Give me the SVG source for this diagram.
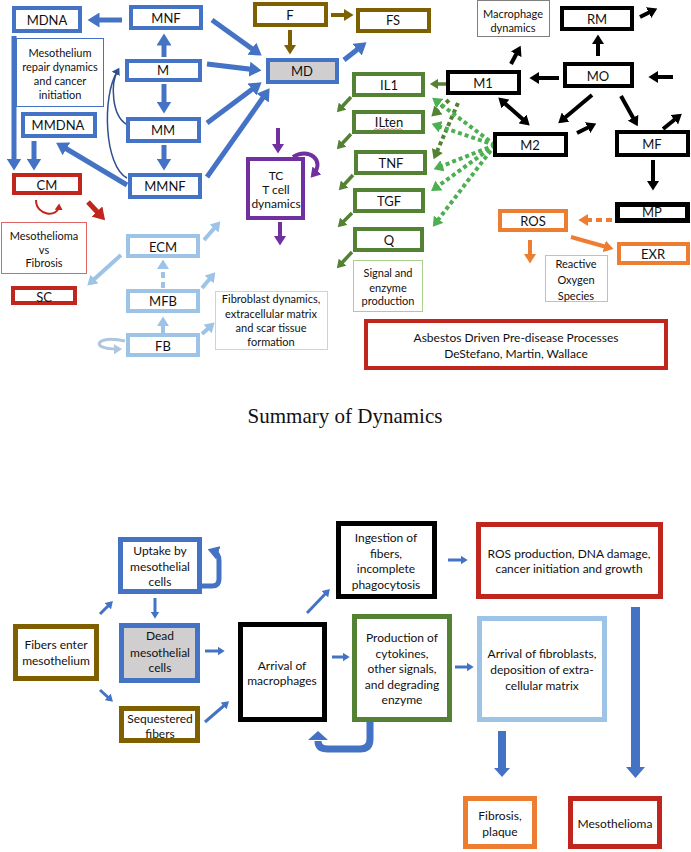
<svg xmlns="http://www.w3.org/2000/svg" width="691" height="852" viewBox="0 0 691 852">
<defs>
<style>
text{font-family:Lato,"Open Sans","Liberation Sans",sans-serif;font-size:13px;fill:#111;text-anchor:middle;dominant-baseline:central}
.s{font-size:11px}
.m{font-size:12px}
.ttl{font-family:"Liberation Serif","DejaVu Serif",serif;font-size:21px;dominant-baseline:alphabetic}
rect{fill:#fff}
.bl{stroke:#4472C4;stroke-width:4}
.lb{stroke:#9DC3E6;stroke-width:4}
.rd{stroke:#C0261E;stroke-width:4}
.br{stroke:#7F6000;stroke-width:4}
.gr{stroke:#548235;stroke-width:4}
.pu{stroke:#7030A0;stroke-width:4}
.bk{stroke:#000;stroke-width:4}
.bk5{stroke:#000;stroke-width:5}
.or{stroke:#ED7D31;stroke-width:4}
.gray{fill:#D0CECE}
.b5{stroke-width:5}
#connectors path,#connectors line{fill:none}
.ab{stroke:#4472C4;stroke-width:5;marker-end:url(#mb)}
.ab3{stroke:#4472C4;stroke-width:3;marker-end:url(#mb)}
.alb{stroke:#9DC3E6;stroke-width:4;marker-end:url(#mlb)}
.ard{stroke:#C0261E;stroke-width:5;marker-end:url(#mrd)}
.abr{stroke:#7F6000;stroke-width:4;marker-end:url(#mbr)}
.apu{stroke:#7030A0;stroke-width:4;marker-end:url(#mpu)}
.agr{stroke:#548235;stroke-width:3.5;marker-end:url(#mgr)}
.agd{stroke:#548235;stroke-width:4;stroke-dasharray:4 3;marker-end:url(#mgr)}
.agl{stroke:#4CB050;stroke-width:4;stroke-dasharray:4 3;marker-end:url(#mgl)}
.abk{stroke:#000;stroke-width:4;marker-end:url(#mbk)}
.aor{stroke:#ED7D31;stroke-width:4;marker-end:url(#mor)}
</style>
<marker id="mb" viewBox="0 0 10 10" refX="5" refY="5" markerWidth="3" markerHeight="3" orient="auto"><path d="M0,0L8,5L0,10z" fill="#4472C4"/></marker>
<marker id="mlb" viewBox="0 0 10 10" refX="5" refY="5" markerWidth="3" markerHeight="3" orient="auto"><path d="M0,0L8,5L0,10z" fill="#9DC3E6"/></marker>
<marker id="mrd" viewBox="0 0 10 10" refX="5" refY="5" markerWidth="3" markerHeight="3" orient="auto"><path d="M0,0L8,5L0,10z" fill="#C0261E"/></marker>
<marker id="mbr" viewBox="0 0 10 10" refX="5" refY="5" markerWidth="3" markerHeight="3" orient="auto"><path d="M0,0L8,5L0,10z" fill="#7F6000"/></marker>
<marker id="mpu" viewBox="0 0 10 10" refX="5" refY="5" markerWidth="3" markerHeight="3" orient="auto"><path d="M0,0L8,5L0,10z" fill="#7030A0"/></marker>
<marker id="mgr" viewBox="0 0 10 10" refX="5" refY="5" markerWidth="3" markerHeight="3" orient="auto"><path d="M0,0L8,5L0,10z" fill="#548235"/></marker>
<marker id="mgl" viewBox="0 0 10 10" refX="5" refY="5" markerWidth="3" markerHeight="3" orient="auto"><path d="M0,0L8,5L0,10z" fill="#4CB050"/></marker>
<marker id="mbk" viewBox="0 0 10 10" refX="5" refY="5" markerWidth="3" markerHeight="3" orient="auto-start-reverse"><path d="M0,0L8,5L0,10z" fill="#000"/></marker>
<marker id="mor" viewBox="0 0 10 10" refX="5" refY="5" markerWidth="3" markerHeight="3" orient="auto"><path d="M0,0L8,5L0,10z" fill="#ED7D31"/></marker>
<marker id="mnav" viewBox="0 0 10 10" refX="5" refY="5" markerWidth="6" markerHeight="6" orient="auto"><path d="M0,0L8,5L0,10z" fill="#2F4F8F"/></marker>
<marker id="mrs" viewBox="0 0 10 10" refX="5" refY="5" markerWidth="4" markerHeight="4" orient="auto"><path d="M0,0L8,5L0,10z" fill="#C0261E"/></marker>
<marker id="mgy" viewBox="0 0 10 10" refX="5" refY="5" markerWidth="3.5" markerHeight="3.5" orient="auto"><path d="M0,0L8,5L0,10z" fill="#AFC6DC"/></marker>
<marker id="mbig" viewBox="0 0 10 10" refX="4" refY="5" markerWidth="2.8" markerHeight="2.8" orient="auto"><path d="M0,0L8,5L0,10z" fill="#4472C4"/></marker>
</defs>
<rect x="0" y="0" width="691" height="852" style="fill:#fff"/>

<g id="connectors">
<line class="ab" x1="122" y1="20" x2="92" y2="20"/>
<line class="ab" x1="164" y1="57" x2="164" y2="38"/>
<line class="ab" x1="164" y1="84" x2="164" y2="109"/>
<line class="ab" x1="164" y1="145" x2="164" y2="166"/>
<line class="ab" x1="212" y1="20" x2="258" y2="53"/>
<line class="ab" x1="207" y1="64" x2="257" y2="70"/>
<line class="ab" x1="207" y1="123" x2="258" y2="85"/>
<line class="ab" x1="207" y1="177" x2="267" y2="92"/>
<line class="ab" x1="344" y1="60" x2="363" y2="45"/>
<line class="ab" x1="14" y1="36" x2="14" y2="166"/>
<line class="ab" x1="34" y1="141" x2="34" y2="166"/>
<line class="ab" x1="127" y1="185" x2="60" y2="145"/>
<path d="M126,124 C112,115 110,84 118,70" stroke="#2F4F8F" stroke-width="1.5" marker-end="url(#mnav)"/>
<path d="M127,178 C104,166 102,96 117,72" stroke="#2F4F8F" stroke-width="1.5"/>
<path d="M36,200 C36,216 58,218 59,206" stroke="#C0261E" stroke-width="2" marker-end="url(#mrs)"/>
<line class="ard" x1="88" y1="202" x2="102" y2="217"/>
<line class="alb" x1="121" y1="255" x2="90" y2="283"/>
<line class="alb" x1="204" y1="240" x2="218" y2="224"/>
<line class="alb" x1="163" y1="288" x2="163" y2="263" stroke-dasharray="6 4"/>
<line class="alb" x1="202" y1="288" x2="213" y2="275"/>
<line class="alb" x1="163" y1="333" x2="163" y2="320"/>
<line class="alb" x1="202" y1="334" x2="212" y2="325"/>
<path d="M125,341 C96,334 88,350 119,349" stroke="#AFC6DC" stroke-width="3" marker-end="url(#mgy)"/>
<line class="abr" x1="331" y1="15" x2="350" y2="15"/>
<line class="abr" x1="290" y1="30" x2="290" y2="51"/>
<line class="apu" x1="278" y1="128" x2="278" y2="150"/>
<line class="apu" x1="280" y1="222" x2="280" y2="242"/>
<path d="M293,157 C308,147 326,160 313,175" class="apu"/>
<line class="agr" x1="351" y1="97" x2="339" y2="110"/>
<line class="agr" x1="351" y1="134" x2="339" y2="147"/>
<line class="agr" x1="353" y1="175" x2="341" y2="188"/>
<line class="agr" x1="352" y1="213" x2="340" y2="225"/>
<line class="agr" x1="352" y1="252" x2="339" y2="266"/>
<line class="agr" x1="446" y1="84" x2="433" y2="84"/>
<line class="agd" x1="449" y1="100" x2="434" y2="114"/>
<line class="agd" x1="458" y1="103" x2="435" y2="156"/>
<line class="agl" x1="495" y1="145" x2="435" y2="100"/>
<line class="agl" x1="495" y1="145" x2="435" y2="125"/>
<line class="agl" x1="495" y1="145" x2="437" y2="168"/>
<line class="agl" x1="495" y1="145" x2="434" y2="189"/>
<line class="agl" x1="495" y1="145" x2="435" y2="224"/>
<line class="abk" x1="640" y1="17" x2="654" y2="10"/>
<line class="abk" x1="598" y1="56" x2="598" y2="38"/>
<line class="abk" x1="673" y1="77" x2="652" y2="77"/>
<line class="abk" x1="559" y1="78" x2="533" y2="78"/>
<line class="abk" x1="511" y1="64" x2="519" y2="49"/>
<line class="abk" x1="501" y1="100" x2="527" y2="123" marker-start="url(#mbk)"/>
<line class="abk" x1="592" y1="95" x2="561" y2="121"/>
<line class="abk" x1="577" y1="133" x2="593" y2="125"/>
<line class="abk" x1="621" y1="96" x2="636" y2="123"/>
<line class="abk" x1="663" y1="129" x2="679" y2="116"/>
<line class="abk" x1="653" y1="160" x2="653" y2="187"/>
<line class="aor" x1="612" y1="220" x2="582" y2="220" stroke-dasharray="6 4"/>
<line class="aor" x1="571" y1="237" x2="610" y2="248"/>
<line class="aor" x1="530" y1="240" x2="530" y2="260"/>
<line class="ab3" x1="100" y1="614" x2="111" y2="603"/>
<line class="ab3" x1="100" y1="690" x2="111" y2="700"/>
<line class="ab3" x1="155" y1="598" x2="155" y2="616"/>
<line class="ab3" x1="205" y1="651" x2="222" y2="651"/>
<line class="ab3" x1="205" y1="722" x2="227" y2="703"/>
<line class="ab3" x1="307" y1="613" x2="328" y2="591"/>
<line class="ab3" x1="332" y1="657" x2="347" y2="657"/>
<line class="ab3" x1="448" y1="560" x2="465" y2="560"/>
<line class="ab3" x1="455" y1="667" x2="471" y2="667"/>
<path d="M202,586 L212,586 Q219,586 219,579 L219,561 Q219,553 213,551" stroke="#4472C4" stroke-width="5" marker-end="url(#mbig)"/>
<path d="M370,722 L370,739 Q370,749 360,749 L328,749 Q318,749 318,741" stroke="#4472C4" stroke-width="7"/>
<polygon points="308,740 318,731 328,740" fill="#4472C4"/>
<polygon points="631,607 640,607 640,767 645,767 635.5,778 626,767 631,767" fill="#4472C4"/>
<polygon points="498,731 506,731 506,768 510,768 502,777 494,768 498,768" fill="#4472C4"/>
</g>

<g id="MDNA"><rect class="bl" x="14" y="8" width="66" height="23"/><text x="47" y="20">MDNA</text></g>
<g id="MNF"><rect class="bl" x="131" y="7" width="70" height="21"/><text x="166" y="18">MNF</text></g>
<g id="M"><rect class="bl" x="127" y="61" width="73" height="19"/><text x="163" y="70">M</text></g>
<g id="MM"><rect class="bl" x="128" y="119" width="71" height="22"/><text x="163" y="130">MM</text></g>
<g id="MMNF"><rect class="bl" x="130" y="175" width="70" height="22"/><text x="165" y="186">MMNF</text></g>
<g id="MMDNA"><rect class="bl" x="23" y="114" width="72" height="22"/><text x="58" y="125">MMDNA</text></g>
<g id="label-meso"><rect x="16.5" y="38.5" width="87" height="68" stroke="#4472C4" stroke-width="1"/>
<text class="s" x="60" y="52">Mesothelium</text><text class="s" x="60" y="66">repair dynamics</text><text class="s" x="60" y="80">and cancer</text><text class="s" x="60" y="94">initiation</text></g>
<g id="CM"><rect class="rd" x="14" y="175" width="66" height="18"/><text x="47" y="185">CM</text></g>
<g id="label-mvf"><rect x="1.5" y="222.5" width="85" height="51" stroke="#E06666" stroke-width="1"/>
<text class="s" x="44" y="235">Mesothelioma</text><text class="s" x="44" y="249">vs</text><text class="s" x="44" y="262">Fibrosis</text></g>
<g id="SC"><rect class="rd" x="13" y="288" width="62" height="15"/><text x="44" y="297">SC</text></g>
<g id="ECM"><rect class="lb" x="128" y="236" width="70" height="20"/><text x="163" y="247">ECM</text></g>
<g id="MFB"><rect class="lb" x="128" y="291" width="70" height="20"/><text x="163" y="301">MFB</text></g>
<g id="FB"><rect class="lb" x="128" y="335" width="70" height="20"/><text x="163" y="346">FB</text></g>
<g id="label-fib"><rect x="215.5" y="291.5" width="112" height="58" stroke="#BDD7EE" stroke-width="1"/>
<text class="s" x="271" y="298">Fibroblast dynamics,</text><text class="s" x="271" y="313">extracellular matrix</text><text class="s" x="271" y="327">and scar tissue</text><text class="s" x="271" y="341">formation</text></g>

<g id="F"><rect class="br" x="255" y="4" width="71" height="21"/><text x="290" y="15">F</text></g>
<g id="FS"><rect class="br" x="358" y="10" width="71" height="21"/><text x="393" y="20">FS</text></g>
<g id="MD"><rect class="bl gray" x="268" y="60" width="69" height="22"/><text x="302" y="71">MD</text></g>
<g id="TC"><rect class="pu" x="248" y="159" width="55" height="59"/>
<text class="m" x="276" y="175">TC</text><text class="m" x="276" y="189">T cell</text><text class="m" x="276" y="203">dynamics</text></g>

<g id="IL1"><rect class="gr" x="354" y="74" width="69" height="21"/><text x="389" y="85">IL1</text></g>
<g id="ILten"><rect class="gr" x="354" y="112" width="69" height="20"/><text x="389" y="122">ILten</text>
<path d="M374,130 l2,-1.5 l2,1.5 l2,-1.5 l2,1.5 l2,-1.5 l2,1.5 l2,-1.5 l2,1.5 l2,-1.5 l2,1.5 l2,-1.5 l2,1.5 l2,-1.5 l2,1.5" fill="none" stroke="#E04040" stroke-width="0.8"/></g>
<g id="TNF"><rect class="gr" x="356" y="152" width="69" height="21"/><text x="391" y="163">TNF</text></g>
<g id="TGF"><rect class="gr" x="355" y="190" width="68" height="21"/><text x="389" y="201">TGF</text></g>
<g id="Q"><rect class="gr" x="355" y="229" width="67" height="21"/><text x="389" y="240">Q</text></g>
<g id="label-sig"><rect x="353.5" y="260.5" width="69" height="51" stroke="#A9D18E" stroke-width="1"/>
<text class="s" x="388" y="272">Signal and</text><text class="s" x="388" y="287">enzyme</text><text class="s" x="388" y="300">production</text></g>

<g id="label-mac"><rect x="477.5" y="0.5" width="72" height="36" stroke="#7F7F7F" stroke-width="1"/>
<text class="s" x="513" y="13">Macrophage</text><text class="s" x="513" y="27">dynamics</text></g>
<g id="RM"><rect class="bk" x="562" y="8" width="70" height="21"/><text x="597" y="19">RM</text></g>
<g id="MO"><rect class="bk" x="565" y="64" width="67" height="22"/><text x="598" y="76">MO</text></g>
<g id="M1"><rect class="bk" x="448" y="72" width="71" height="21"/><text x="483" y="83">M1</text></g>
<g id="M2"><rect class="bk" x="495" y="134" width="71" height="21"/><text x="530" y="145">M2</text></g>
<g id="MF"><rect class="bk" x="617" y="132" width="71" height="23"/><text x="652" y="144">MF</text></g>
<g id="MP"><rect class="bk5" x="617.5" y="204.5" width="70" height="16"/><text x="652" y="212">MP</text></g>
<g id="ROS"><rect class="or" x="500" y="211" width="66" height="19"/><text x="533" y="221">ROS</text></g>
<g id="EXR"><rect class="or" x="619" y="244" width="69" height="19"/><text x="653" y="254">EXR</text></g>
<g id="label-ros"><rect x="545.5" y="255.5" width="62" height="46" stroke="#F4B183" stroke-width="1"/>
<text class="s" x="576" y="263">Reactive</text><text class="s" x="576" y="279">Oxygen</text><text class="s" x="576" y="295">Species</text></g>
<g id="title-box"><rect class="rd" x="366" y="321" width="300" height="47"/>
<text class="m" x="516" y="337">Asbestos Driven Pre-disease Processes</text><text class="m" x="516" y="353">DeStefano, Martin, Wallace</text></g>

<text class="ttl" x="345" y="423">Summary of Dynamics</text>

<g id="uptake"><rect class="bl b5" x="120.5" y="539.5" width="79" height="52"/>
<text class="m" x="160" y="550">Uptake by</text><text class="m" x="160" y="566">mesothelial</text><text class="m" x="160" y="581">cells</text></g>
<g id="dead"><rect class="bl b5 gray" x="121.5" y="625.5" width="76" height="55"/>
<text class="m" x="160" y="635">Dead</text><text class="m" x="160" y="652">mesothelial</text><text class="m" x="160" y="667">cells</text></g>
<g id="fibers-enter"><rect class="br b5" x="15.5" y="626.5" width="81" height="52"/>
<text class="m" x="56" y="644">Fibers enter</text><text class="m" x="56" y="660">mesothelium</text></g>
<g id="sequestered"><rect class="br b5" x="121.5" y="708.5" width="76" height="32"/>
<text class="m" x="160" y="718">Sequestered</text><text class="m" x="160" y="733">fibers</text></g>
<g id="arrival"><rect class="bk b5" x="240.5" y="624.5" width="84" height="95"/>
<text class="m" x="282" y="665">Arrival of</text><text class="m" x="282" y="680">macrophages</text></g>
<g id="ingestion"><rect class="bk b5" x="338.5" y="523.5" width="96" height="73"/>
<text class="m" x="386" y="537">Ingestion of</text><text class="m" x="386" y="553">fibers,</text><text class="m" x="386" y="568">incomplete</text><text class="m" x="386" y="584">phagocytosis</text></g>
<g id="production"><rect class="gr b5" x="354.5" y="616.5" width="95" height="103"/>
<text class="m" x="402" y="637">Production of</text><text class="m" x="402" y="653">cytokines,</text><text class="m" x="402" y="668">other signals,</text><text class="m" x="402" y="684">and degrading</text><text class="m" x="402" y="699">enzyme</text></g>
<g id="ros-prod"><rect class="rd b5" x="478.5" y="524.5" width="182" height="72"/>
<text class="m" x="569" y="553">ROS production, DNA damage,</text><text class="m" x="569" y="568">cancer initiation and growth</text></g>
<g id="fibroblasts"><rect class="lb b5" x="479.5" y="618.5" width="125" height="101"/>
<text class="m" x="542" y="653">Arrival of fibroblasts,</text><text class="m" x="542" y="669">deposition of extra-</text><text class="m" x="542" y="685">cellular matrix</text></g>
<g id="fibrosis"><rect class="or b5" x="465.5" y="798.5" width="69" height="48"/>
<text class="m" x="500" y="815">Fibrosis,</text><text class="m" x="500" y="831">plaque</text></g>
<g id="mesothelioma"><rect class="rd b5" x="570.5" y="798.5" width="89" height="48"/>
<text class="m" x="615" y="823">Mesothelioma</text></g>
</svg>
